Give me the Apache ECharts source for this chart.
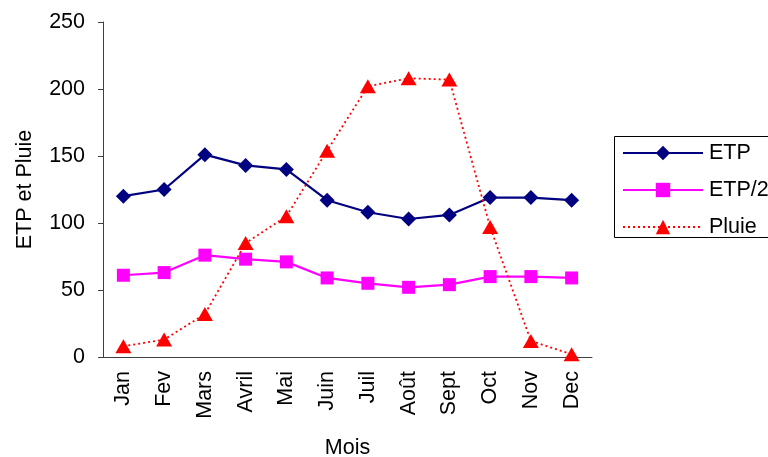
<!DOCTYPE html>
<html>
<head>
<meta charset="utf-8">
<script src="https://cdn.jsdelivr.net/npm/echarts@6/dist/echarts.min.js"></script>
<style>
  html, body { margin: 0; padding: 0; background: #fff; }
  #chart { width: 768px; height: 457px; }
</style>
</head>
<body>
<div id="chart"></div>
<script>
// Monthly evapotranspiration and rainfall
const months = ['Jan', 'Fev', 'Mars', 'Avril', 'Mai', 'Juin', 'Juil', 'Août', 'Sept', 'Oct', 'Nov', 'Dec'];
const etp = [120, 125, 151, 143, 140, 117, 108, 103, 106, 119, 119, 117];
const etpHalf = [61, 63, 76, 73, 71, 59, 55, 52, 54, 60, 60, 59];
const pluie = [8, 13, 32, 85, 105, 154, 202, 208, 207, 97, 12, 2];
const yTicks = [0, 50, 100, 150, 200, 250];

const FONT = "'Liberation Sans', Arial, sans-serif";
const FS = 21.5;
const AXIS_COLOR = '#404040';

const chart = echarts.init(document.getElementById('chart'), null, { renderer: 'canvas' });

chart.setOption({
  animation: false,
  textStyle: { fontFamily: FONT, color: '#000' },
  grid: { left: 103, right: 176, top: 22, bottom: 100, containLabel: false, outerBoundsMode: 'none' },
  // legend frame runs past the right edge of the canvas
  graphic: [{
    type: 'rect',
    shape: { x: 614.5, y: 136.5, width: 200, height: 101 },
    style: { fill: 'none', stroke: '#000', lineWidth: 1 },
    silent: true,
    z: 1
  }],
  legend: {
    orient: 'vertical',
    left: 614,
    top: 136,
    padding: [6, 0, 6, 8],
    itemWidth: 80,
    itemHeight: 18,
    itemGap: 15,
    borderWidth: 0,
    textStyle: { fontFamily: FONT, fontSize: FS, color: '#000', padding: [0, 0, 0, 1] },
    data: ['ETP', 'ETP/2', 'Pluie']
  },
  xAxis: {
    type: 'category',
    data: months,
    boundaryGap: true,
    name: 'Mois',
    nameLocation: 'middle',
    nameGap: 80,
    nameTextStyle: { fontFamily: FONT, fontSize: FS, color: '#000', verticalAlign: 'top' },
    axisLine: { lineStyle: { color: AXIS_COLOR, width: 1 } },
    axisTick: { alignWithLabel: false, length: 5, lineStyle: { color: AXIS_COLOR } },
    axisLabel: { rotate: 90, margin: 14, fontFamily: FONT, fontSize: FS, color: '#000', interval: 0 },
    splitLine: { show: false }
  },
  yAxis: {
    type: 'value',
    min: yTicks[0],
    max: yTicks[yTicks.length - 1],
    interval: yTicks[1] - yTicks[0],
    name: 'ETP et Pluie',
    nameLocation: 'middle',
    nameGap: 67,
    nameTextStyle: { fontFamily: FONT, fontSize: FS, color: '#000' },
    axisLine: { show: true, lineStyle: { color: AXIS_COLOR, width: 1 } },
    axisTick: { show: true, length: 5, lineStyle: { color: AXIS_COLOR } },
    axisLabel: { margin: 18, fontFamily: FONT, fontSize: FS, color: '#000' },
    splitLine: { show: false }
  },
  series: [
    {
      name: 'ETP',
      type: 'line',
      data: etp,
      symbol: 'diamond',
      symbolSize: [15, 15],
      lineStyle: { color: '#000080', width: 2.2 },
      itemStyle: { color: '#000080' }
    },
    {
      name: 'ETP/2',
      type: 'line',
      data: etpHalf,
      symbol: 'rect',
      symbolSize: [13, 13],
      lineStyle: { color: '#FF00FF', width: 2.2 },
      itemStyle: { color: '#FF00FF' }
    },
    {
      name: 'Pluie',
      type: 'line',
      data: pluie,
      symbol: 'triangle',
      symbolSize: [16, 14],
      lineStyle: { color: '#FF0000', width: 1.8, type: [2, 3] },
      itemStyle: { color: '#FF0000' }
    }
  ]
});
</script>
</body>
</html>
